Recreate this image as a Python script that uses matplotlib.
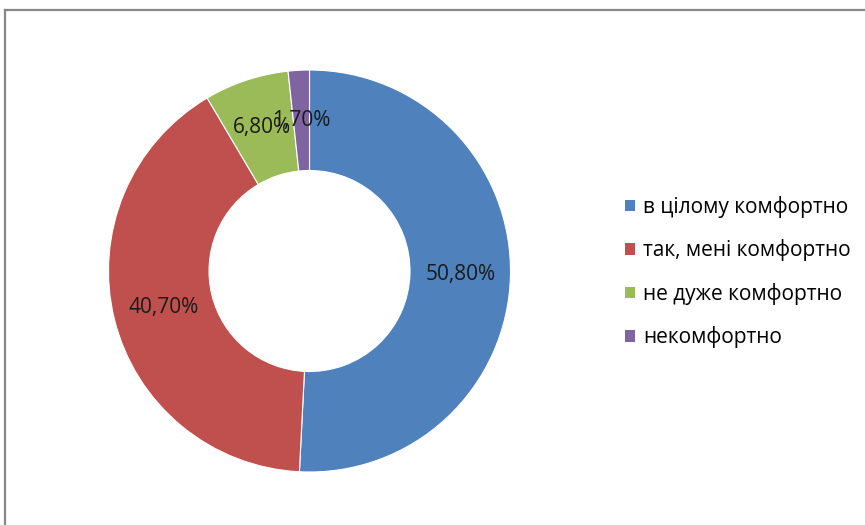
import matplotlib.pyplot as plt
from matplotlib.patches import Patch
from matplotlib.lines import Line2D


CATEGORIES = ['в цілому комфортно', 'так, мені комфортно', 'не дуже комфортно', 'некомфортно']
VALUES = [50.8, 40.7, 6.8, 1.7]
COLORS = ['#4F81BD', '#C0504D', '#9BBB59', '#8064A2']

W, H = 865, 525
CX, CY, R = 309.5, 271, 201

plt.rcParams['font.family'] = ['Open Sans', 'DejaVu Sans']


def fmt(p):
	return f'{p:.2f}%'.replace('.', ',')


fig = plt.figure(figsize=(W / 100, H / 100), dpi=100)
ax = fig.add_axes([(CX - R) / W, (H - CY - R) / H, 2 * R / W, 2 * R / H])

wedges, texts, autotexts = ax.pie(
	VALUES, colors=COLORS, startangle=90, counterclock=False,
	radius=1, autopct=fmt, pctdistance=0.75,
	wedgeprops=dict(width=0.5, edgecolor='white', linewidth=0.8),
	textprops=dict(fontsize=15, color='#1a1a1a'))
ax.set_xlim(-1, 1)
ax.set_ylim(-1, 1)
ax.set_aspect('equal')
ax.axis('off')

# frame of the chart area, cut by the image edges
fig.add_artist(Line2D([5 / W, 5 / W], [0, (H - 10) / H], color='#888888', lw=1.6))
fig.add_artist(Line2D([5 / W, 1], [(H - 10) / H, (H - 10) / H], color='#888888', lw=1.6))

handles = [Patch(facecolor=c, edgecolor='none') for c in COLORS]
fig.legend(handles, CATEGORIES, loc='upper left', bbox_to_anchor=(625 / W, (H - 196) / H),
	frameon=False, fontsize=15, handlelength=0.48, handleheight=0.48,
	handletextpad=0.4, labelspacing=1.03, borderaxespad=0, borderpad=0)

fig.savefig('out.png', dpi=100)
